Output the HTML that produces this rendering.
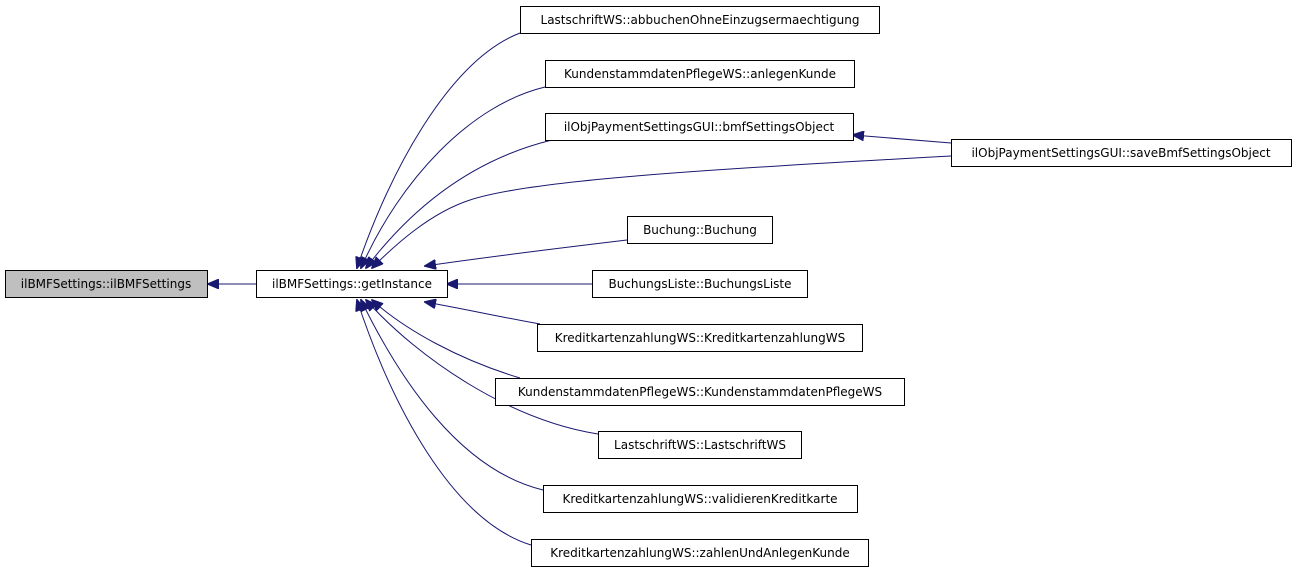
<!DOCTYPE html>
<html><head><meta charset="utf-8"><style>
body{margin:0;background:#fff;}
svg text{font-family:"DejaVu Sans","Liberation Sans",sans-serif;font-size:12px;fill:#000;}
</style></head><body>
<svg width="1296" height="571" viewBox="0 0 1296 571" xmlns="http://www.w3.org/2000/svg">
<defs>
<marker id="a" markerWidth="12" markerHeight="10" refX="11" refY="5" orient="auto" markerUnits="userSpaceOnUse">
<path d="M0,0 L12,5 L0,10 z" fill="#191970" stroke="#191970"/>
</marker>
</defs>
<g fill="none" stroke="#191970" stroke-width="1">
<path d="M256,284 L208,284" marker-end="url(#a)"/>
<path d="M520,33 C450,60 390,170 357,268" marker-end="url(#a)"/>
<path d="M545,87 C470,105 400,180 361,268" marker-end="url(#a)"/>
<path d="M552,140 C470,160 410,210 366,268" marker-end="url(#a)"/>
<path d="M951,156 C700,170 530,180 470,200 C430,213 395,245 372,268" marker-end="url(#a)"/>
<path d="M951,143 L853,135" marker-end="url(#a)"/>
<path d="M627,240 C560,248 480,258 425,266" marker-end="url(#a)"/>
<path d="M592,284 L447,284" marker-end="url(#a)"/>
<path d="M540,324 C500,317 460,308 425,302" marker-end="url(#a)"/>
<path d="M520,378 C460,360 405,330 372,300" marker-end="url(#a)"/>
<path d="M598,434 C510,420 420,360 366,300" marker-end="url(#a)"/>
<path d="M543,490 C460,470 400,380 361,300" marker-end="url(#a)"/>
<path d="M531,545 C450,520 390,400 357,300" marker-end="url(#a)"/>
</g>
<g stroke="#000" stroke-width="1">
<rect x="5.5" y="270.5" width="202" height="27" fill="#bfbfbf"/>
<rect x="256.5" y="270.5" width="191" height="27" fill="#fff"/>
<rect x="520.5" y="6.5" width="359" height="27" fill="#fff"/>
<rect x="545.5" y="60.5" width="309" height="27" fill="#fff"/>
<rect x="545.5" y="113.5" width="308" height="27" fill="#fff"/>
<rect x="951.5" y="139.5" width="340" height="27" fill="#fff"/>
<rect x="627.5" y="216.5" width="145" height="27" fill="#fff"/>
<rect x="592.5" y="270.5" width="215" height="27" fill="#fff"/>
<rect x="537.5" y="324.5" width="325" height="27" fill="#fff"/>
<rect x="495.5" y="378.5" width="409" height="27" fill="#fff"/>
<rect x="598.5" y="431.5" width="203" height="27" fill="#fff"/>
<rect x="543.5" y="485.5" width="314" height="27" fill="#fff"/>
<rect x="531.5" y="539.5" width="337" height="27" fill="#fff"/>
</g>
<g text-anchor="middle">
<text x="106" y="288">ilBMFSettings::ilBMFSettings</text>
<text x="352" y="288">ilBMFSettings::getInstance</text>
<text x="700" y="24">LastschriftWS::abbuchenOhneEinzugsermaechtigung</text>
<text x="700" y="78">KundenstammdatenPflegeWS::anlegenKunde</text>
<text x="699" y="131">ilObjPaymentSettingsGUI::bmfSettingsObject</text>
<text x="1121" y="157">ilObjPaymentSettingsGUI::saveBmfSettingsObject</text>
<text x="700" y="234">Buchung::Buchung</text>
<text x="700" y="288">BuchungsListe::BuchungsListe</text>
<text x="700" y="342">KreditkartenzahlungWS::KreditkartenzahlungWS</text>
<text x="700" y="396">KundenstammdatenPflegeWS::KundenstammdatenPflegeWS</text>
<text x="700" y="449">LastschriftWS::LastschriftWS</text>
<text x="700" y="503">KreditkartenzahlungWS::validierenKreditkarte</text>
<text x="700" y="557">KreditkartenzahlungWS::zahlenUndAnlegenKunde</text>
</g>
</svg>
</body></html>
